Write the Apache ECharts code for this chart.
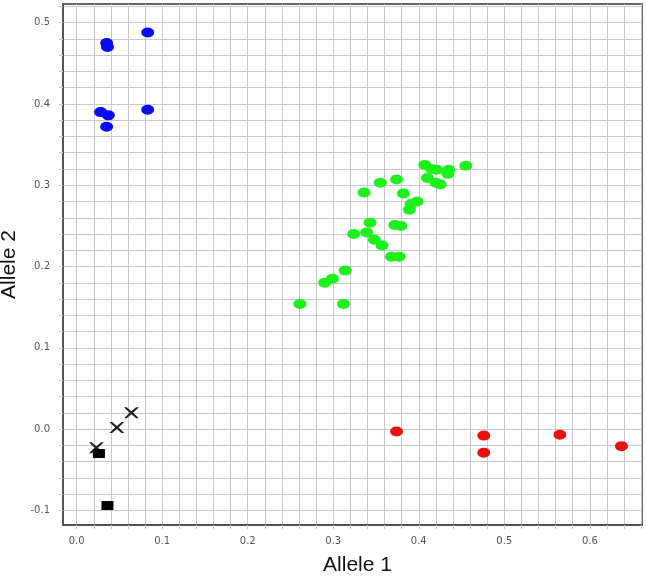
<!DOCTYPE html>
<html><head><meta charset="utf-8">
<script src="https://cdn.jsdelivr.net/npm/echarts@6/dist/echarts.min.js"></script>
<style>html,body{margin:0;padding:0;background:#fff}#c{width:646px;height:576px}</style>
</head><body><div id="c"></div>
<script>
// ---- data ----
var blueGroup = [[0.035,0.475],[0.036,0.470],[0.083,0.488],[0.028,0.390],[0.037,0.386],[0.035,0.372],[0.083,0.393]];
var greenGroup = [
 [0.261,0.154],[0.312,0.154],[0.290,0.180],[0.299,0.185],[0.314,0.195],
 [0.324,0.240],[0.339,0.242],[0.343,0.254],[0.348,0.233],[0.357,0.226],
 [0.368,0.212],[0.377,0.212],[0.372,0.251],[0.379,0.250],[0.336,0.291],
 [0.355,0.303],[0.374,0.307],[0.382,0.290],[0.398,0.280],[0.391,0.277],
 [0.389,0.270],[0.407,0.325],[0.421,0.319],[0.435,0.319],[0.455,0.324],
 [0.410,0.309],[0.420,0.303],[0.434,0.314],[0.415,0.320],[0.425,0.301]
];
var redGroup = [[0.374,-0.003],[0.476,-0.008],[0.476,-0.029],[0.565,-0.007],[0.637,-0.021]];
var crossGroup = [[0.064,0.020],[0.047,0.002],[0.023,-0.023]];
var squareGroup = [[0.026,-0.030],[0.036,-0.094]];
var xLabels = [0.0,0.1,0.2,0.3,0.4,0.5,0.6];
var yLabels = [-0.1,0.0,0.1,0.2,0.3,0.4,0.5];
var xName = 'Allele 1', yName = 'Allele 2';

// grid positions every 0.02
function steps(a,b){var r=[];for(var i=a;i<=b;i++){r.push(+(i*0.02).toFixed(2));}return r;}
var xGrid = steps(0,33), yGrid = steps(-5,26);

var chart = echarts.init(document.getElementById('c'));
var lbl = {color:'#555',fontSize:10,fontFamily:'DejaVu Sans'};
var crossPath = 'path://M0,0 L2.6,0 L7,3.6 L11.4,0 L14,0 L8.6,5 L14,10 L11.4,10 L7,6.4 L2.6,10 L0,10 L5.4,5 Z';
chart.setOption({
  animation:false,
  grid:{left:63,right:4,top:4,bottom:51,containLabel:false,outerBoundsMode:'none',show:true,borderColor:'#666',borderWidth:2,backgroundColor:'#fff'},
  xAxis:{type:'value',min:-0.016,max:0.661,
    name:xName,nameLocation:'middle',nameGap:30,
    nameTextStyle:{fontSize:21,color:'#111',fontFamily:'Liberation Sans',padding:[0,0,0,10]},
    axisLine:{show:true,onZero:false,lineStyle:{color:'#555',width:2}},
    axisTick:{show:true,inside:false,length:4,lineStyle:{color:'#c8c8c8'},customValues:xGrid},
    splitLine:{show:true,lineStyle:{color:'#c9c9c9',width:1}},
    axisLabel:Object.assign({margin:11,customValues:xLabels,formatter:function(v){return v.toFixed(1);}},lbl)
  },
  yAxis:{type:'value',min:-0.118,max:0.523,
    name:yName,nameLocation:'middle',nameGap:39,nameRotate:90,
    nameTextStyle:{fontSize:21,color:'#111',fontFamily:'Liberation Sans'},
    axisLine:{show:true,onZero:false,lineStyle:{color:'#555',width:2}},
    axisTick:{show:true,inside:false,length:4,lineStyle:{color:'#c8c8c8'},customValues:yGrid},
    splitLine:{show:true,lineStyle:{color:'#c9c9c9',width:1}},
    axisLabel:Object.assign({margin:13,customValues:yLabels,formatter:function(v){return v.toFixed(1);}},lbl)
  },
  series:[
    {type:'scatter',data:blueGroup,symbol:'circle',symbolSize:[13,10],itemStyle:{color:'#0a0af0',opacity:1}},
    {type:'scatter',data:greenGroup,symbol:'circle',symbolSize:[13,10],itemStyle:{color:'#1ef01e',opacity:1}},
    {type:'scatter',data:redGroup,symbol:'circle',symbolSize:[13,10],itemStyle:{color:'#ee1010',opacity:1}},
    {type:'scatter',data:crossGroup,symbol:crossPath,symbolSize:[15,11],itemStyle:{color:'#222',opacity:1}},
    {type:'scatter',data:squareGroup,symbol:'rect',symbolSize:[12,9],itemStyle:{color:'#000',opacity:1}}
  ]
});
</script></body></html>
